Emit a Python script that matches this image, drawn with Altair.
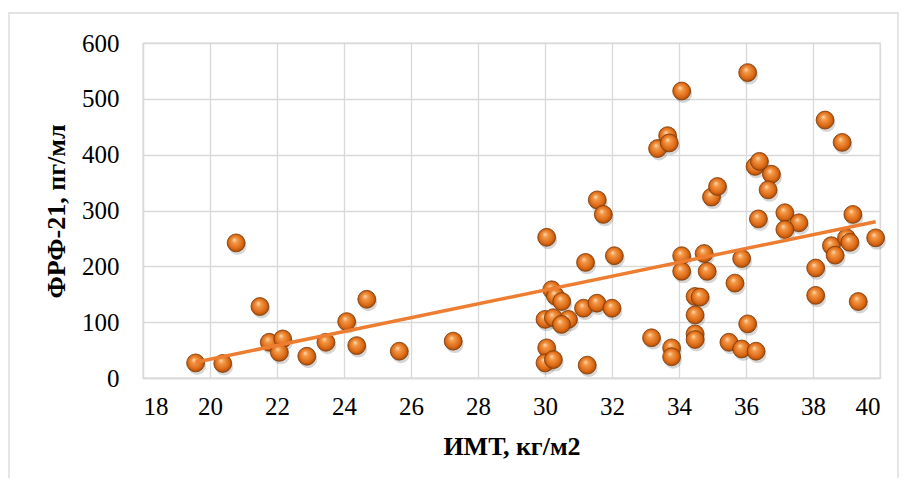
import altair as alt
import pandas as pd

bmi = [19.57, 20.38, 20.78, 21.49, 21.77, 22.17, 22.07, 22.89, 23.46, 24.08, 24.68, 24.38, 25.65, 27.26,
       30.05, 30.2, 30.31, 30.5, 30.0, 30.25, 30.7, 30.49, 30.05, 30.0, 30.25, 31.26, 31.15, 31.55, 32.0,
       31.21, 32.07, 31.56, 31.74,
       33.18, 33.78, 33.78, 33.36, 33.66, 33.71, 34.08, 34.08, 34.08, 34.75, 34.84, 34.48, 34.63, 34.48,
       34.48, 34.48, 34.97, 35.15, 35.49, 35.67,
       35.87, 35.87, 36.05, 36.3, 36.05, 36.27, 36.4, 36.76, 36.66, 36.37, 37.16, 37.58, 37.16,
       38.08, 38.08, 38.36, 38.87, 38.55, 38.66, 39.0, 39.1, 39.19, 39.35, 39.87]
fgf21 = [27, 26, 242, 128, 64, 70, 46, 39, 64, 101, 141, 58, 48, 66,
         252, 158, 147, 137, 105, 108, 105, 96, 54, 27, 33, 23, 125, 134, 125,
         207, 219, 319, 293,
         72, 54, 38, 411, 434, 421, 514, 219, 191, 223, 191, 146, 145, 113,
         79, 69, 324, 343, 64, 170,
         214, 52, 97, 48, 547, 379, 388, 365, 337, 285, 296, 278, 266,
         197, 148, 462, 422, 237, 220, 251, 243, 293, 137, 251]

x_ticks = list(range(18, 41, 2))
y_ticks = [0, 100, 200, 300, 400, 500, 600]

df = pd.DataFrame({"x": bmi, "y": fgf21})

FONT = "Liberation Serif"

xenc = alt.X("x:Q", scale=alt.Scale(domain=[18, 40], nice=False),
             axis=alt.Axis(values=x_ticks, title="ИМТ, кг/м2", labelPadding=16,
                           labelFont=FONT, labelFontSize=25,
                           titleY=68, titleBaseline="middle"))
yenc = alt.Y("y:Q", scale=alt.Scale(domain=[0, 600], nice=False),
             axis=alt.Axis(values=y_ticks, title="ФРФ-21, пг/мл", labelPadding=24,
                           labelFont=FONT, labelFontSize=25,
                           titleX=-87, titleY=168, titleAngle=270, titleAlign="center",
                           titleBaseline="middle"))

sphere = alt.RadialGradient(
    gradient="radial",
    x1=0.4, y1=0.32, r1=0.0,
    x2=0.5, y2=0.5, r2=0.55,
    stops=[
        alt.GradientStop(offset=0.0, color="#fde2c2"),
        alt.GradientStop(offset=0.25, color="#f39a4a"),
        alt.GradientStop(offset=0.7, color="#de6a15"),
        alt.GradientStop(offset=1.0, color="#9a4406"),
    ],
)

border = alt.Chart(pd.DataFrame({"a": [0]})).mark_rect(
    fill=None, stroke="#d9d9d9", strokeWidth=1.3
).encode(x=alt.value(-134), x2=alt.value(755), y=alt.value(-30), y2=alt.value(460))

shadow = alt.Chart(df).mark_point(
    filled=True, size=320, color="#000000", opacity=0.16, xOffset=1.5, yOffset=3
).encode(x=xenc, y=yenc)

points = alt.Chart(df).mark_point(
    filled=True, size=320, fill=sphere, opacity=1, stroke="#7a3806", strokeWidth=0.8
).encode(x=xenc, y=yenc)

trend = alt.Chart(df).transform_regression("x", "y").mark_line(
    color="#ED7D31", strokeWidth=3.5
).encode(x=xenc, y=yenc)

chart = alt.layer(border, shadow, points, trend).properties(
    width=737, height=335,
    autosize=alt.AutoSizeParams(type="none"),
    padding={"left": 135, "top": 35, "right": 19, "bottom": 100},
).configure_axis(
    grid=True, gridColor="#d9d9d9", gridWidth=1.3,
    domainColor="#d9d9d9", domainWidth=1.3, ticks=False,
    labelFont=FONT, labelFontSize=25, labelColor="#000000",
    titleFont=FONT, titleFontSize=26, titleFontWeight="bold", titleColor="#000000",
).configure_view(stroke="#d9d9d9", strokeWidth=1.3)

chart.save("out.html", embed_options={"renderer": "svg", "actions": False})
